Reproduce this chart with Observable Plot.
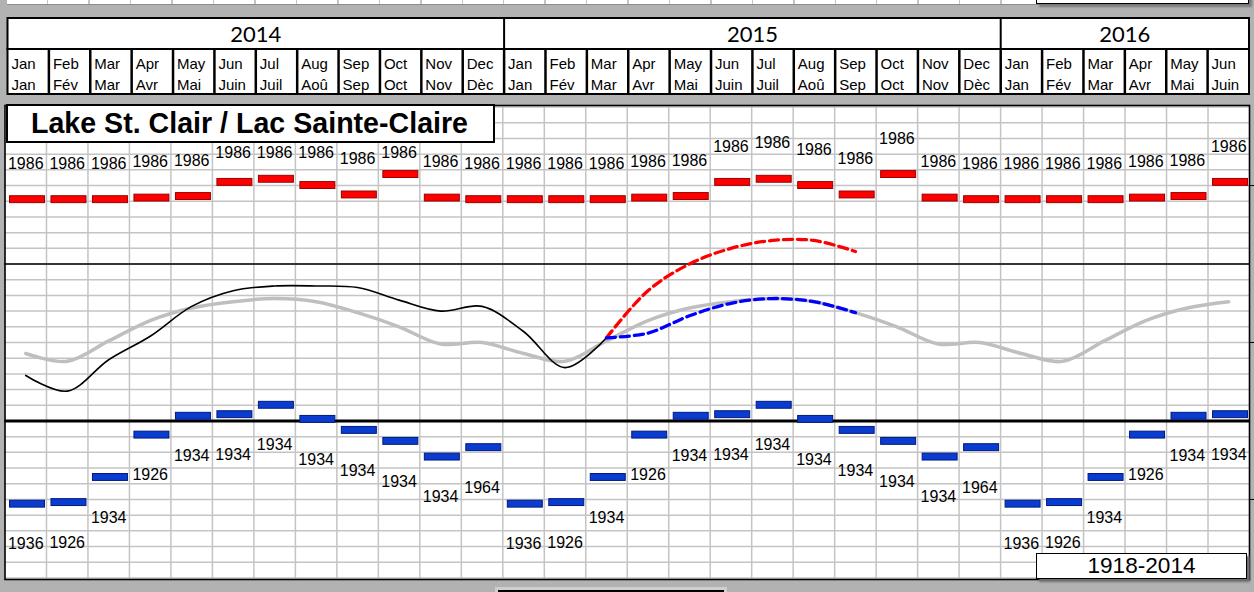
<!DOCTYPE html>
<html>
<head>
<meta charset="utf-8">
<script src="https://cdn.jsdelivr.net/npm/d3@7"></script>
<script src="https://cdn.jsdelivr.net/npm/@observablehq/plot@0.6"></script>
<style>
html, body { margin: 0; padding: 0; background: #b2b2b2; }
#wrap { position: relative; width: 1254px; height: 592px; overflow: hidden; background: #b2b2b2; font-family: "Liberation Sans", Arial, sans-serif; }
.abs { position: absolute; }
#topstrip { left: 6.7px; top: 0; width: 1242px; height: 3.5px; background-color: #fff; border-bottom: 1px solid #8c8c8c;
  background-image: repeating-linear-gradient(to right, transparent 0, transparent 40px, #c4c4c4 40px, #c4c4c4 41.45px); }
#topbox { left: 1036px; top: -12px; width: 211px; height: 14px; background: #fff; border: 1.5px solid #000; box-shadow: 3px 3px 2px #7a7a7a; }
#yearrow { left: 0; top: 16px; }
#monthrow { left: 0; top: 48px; }
#chart { left: 0; top: 103px; }
#title { left: 6px; top: 104px; width: 489px; height: 39px; box-sizing: border-box; border: 2px solid #000; background: #fff;
  padding-left: 23px; font: bold 28.6px "Liberation Sans", Arial, sans-serif; line-height: 35px; white-space: nowrap; }
#legend { left: 1036px; top: 553px; width: 211px; height: 26px; box-sizing: border-box; border: 1.5px solid #000; background: #fff;
  box-shadow: 3px 3px 2px #6e6e6e; text-align: center; font: 22.6px "Liberation Sans", Arial, sans-serif; line-height: 23px; }
#botbox { left: 495px; top: 587px; width: 232px; height: 10px; background: #cfcfcf; }
#botbox div { position: absolute; left: 3px; top: 3px; width: 226px; height: 10px; background: #fff; border-top: 2px solid #000; }
</style>
</head>
<body>
<div id="wrap">
  <div id="topstrip" class="abs"></div>
  <div id="topbox" class="abs"></div>
  <div id="yearrow" class="abs"></div>
  <div id="monthrow" class="abs"></div>
  <div id="chart" class="abs"></div>
  <div id="title" class="abs"></div>
  <div id="legend" class="abs"></div>
  <div id="botbox" class="abs"><div></div></div>
</div>
<script>
// ---------- data ----------
const chartTitle = "Lake St. Clair / Lac Sainte-Claire";
const legendPeriod = "1918-2014";
const monthEn = ["Jan","Feb","Mar","Apr","May","Jun","Jul","Aug","Sep","Oct","Nov","Dec"];
const monthFr = ["Jan","Fév","Mar","Avr","Mai","Juin","Juil","Aoû","Sep","Oct","Nov","Dèc"];
const years = [2014, 2015, 2016];
const monthsShown = [12, 12, 6];

// monthly record highs (m) and year of record
const recordHigh = [175.81, 175.81, 175.81, 175.82, 175.83, 175.92, 175.94, 175.90, 175.84, 175.97, 175.82, 175.81];
const recordHighYear = [1986, 1986, 1986, 1986, 1986, 1986, 1986, 1986, 1986, 1986, 1986, 1986];
// monthly record lows (m) and year of record
const recordLow = [173.87, 173.88, 174.04, 174.31, 174.43, 174.44, 174.50, 174.41, 174.34, 174.27, 174.17, 174.23];
const recordLowYear = [1936, 1926, 1934, 1926, 1934, 1934, 1934, 1934, 1934, 1934, 1934, 1964];
// long-term monthly average (m)
const longTermMean = [174.83, 174.78, 174.91, 175.04, 175.12, 175.16, 175.18, 175.16, 175.09, 175.00, 174.89, 174.90];
// recorded levels, Jan 2014 - Mar 2015 (m)
const recorded = [174.69, 174.59, 174.79, 174.94, 175.13, 175.23, 175.26, 175.26, 175.25, 175.17, 175.10, 175.13, 174.97, 174.74, 174.93];
// forecast range, Mar 2015 - Sep 2015 (m)
const forecastStart = 14;
const forecastHigh = [174.93, 175.23, 175.40, 175.50, 175.55, 175.55, 175.48];
const forecastLow  = [174.93, 174.96, 175.07, 175.15, 175.18, 175.16, 175.09];
const chartDatum = 174.4;
const refLevel = 175.4;

// ---------- derived tables ----------
const months = [];
years.forEach((yr, k) => {
  for (let m = 0; m < monthsShown[k]; m++) months.push({i: months.length, year: yr, m, en: monthEn[m], fr: monthFr[m]});
});
const yearRows = [];
{ let s = 0; years.forEach((yr, k) => { yearRows.push({year: yr, start: s, end: s + monthsShown[k]}); s += monthsShown[k]; }); }
const N = months.length;
const hi = months.map(d => ({i: d.i, v: recordHigh[d.m], yr: recordHighYear[d.m]}));
const lo = months.map(d => ({i: d.i, v: recordLow[d.m], yr: recordLowYear[d.m]}));
const lta = months.map(d => ({i: d.i, v: longTermMean[d.m]}));
const rec = recorded.map((v, i) => ({i, v}));
const fHi = forecastHigh.map((v, k) => ({i: forecastStart + k, v}));
const fLo = forecastLow.map((v, k) => ({i: forecastStart + k, v}));

const font = "Liberation Sans, Arial, sans-serif";
const W = 1254;

// ---------- header: year row ----------
const yearPlot = Plot.plot({
  width: W, height: 33, marginLeft: 7, marginRight: 5.5, marginTop: 1.5, marginBottom: 0.5,
  x: {domain: [0, N], axis: null},
  style: {background: "transparent", fontFamily: "Lato, sans-serif", overflow: "visible"},
  marks: [
    Plot.frame({fill: "white", stroke: "black", strokeWidth: 2}),
    Plot.ruleX(yearRows.slice(1), {x: "start", stroke: "black", strokeWidth: 2}),
    Plot.text(yearRows, {x: d => (d.start + d.end) / 2, text: d => String(d.year), fontSize: 22, frameAnchor: "middle", dy: 1.5, fill: "black"})
  ]
});
document.getElementById("yearrow").append(yearPlot);

// ---------- header: month row ----------
const monthPlot = Plot.plot({
  width: W, height: 46, marginLeft: 7, marginRight: 5.5, marginTop: 0.5, marginBottom: 0.5,
  x: {domain: [0, N], axis: null},
  style: {background: "transparent", fontFamily: font, overflow: "visible"},
  marks: [
    Plot.frame({fill: "white", stroke: "black", strokeWidth: 2}),
    Plot.ruleX(d3.range(1, N), {stroke: "black", strokeWidth: 2.5}),
    Plot.text(months, {x: "i", text: d => d.en + "\n" + d.fr, textAnchor: "start", dx: 4, dy: 1.2,
      frameAnchor: "middle", lineHeight: 1.37, fontSize: 15, fill: "black"})
  ]
});
document.getElementById("monthrow").append(monthPlot);

// ---------- main chart ----------
const yDomain = [173.39, 176.41];
const gridLevels = d3.range(Math.ceil(yDomain[0] * 10), Math.floor(yDomain[1] * 10) + 1).map(d => d / 10);
const barHalf = 0.022;
const marks = [
  Plot.frame({fill: "white"}),
  Plot.ruleY(gridLevels, {stroke: "#c4c4c4", strokeWidth: 1.5}),
  Plot.ruleX(d3.range(1, N), {stroke: "#c4c4c4", strokeWidth: 1.5}),
  Plot.ruleY([refLevel], {stroke: "black", strokeWidth: 1.5}),
  Plot.ruleY([chartDatum], {stroke: "black", strokeWidth: 3}),
  Plot.line(lta, {x: d => d.i + 0.5, y: "v", stroke: "#bfbfbf", strokeWidth: 3.5, curve: "catmull-rom"}),
  Plot.line(rec, {x: d => d.i + 0.5, y: "v", stroke: "black", strokeWidth: 1.6, curve: "catmull-rom"}),
  Plot.line(fHi, {x: d => d.i + 0.5, y: "v", stroke: "#ff0000", strokeWidth: 3.3, strokeDasharray: "9,5", curve: "catmull-rom"}),
  Plot.line(fLo, {x: d => d.i + 0.5, y: "v", stroke: "#0000ff", strokeWidth: 3.3, strokeDasharray: "9,5", curve: "catmull-rom"}),
  Plot.rect(hi, {x1: "i", x2: d => d.i + 1, y1: d => d.v - barHalf, y2: d => d.v + barHalf, insetLeft: 5, insetRight: 1.5,
    fill: "#ff0000", stroke: "#9a0000", strokeWidth: 1}),
  Plot.text(hi, {x: d => d.i + 0.5, y: d => d.i < 12 ? Math.min(d.v, 175.88) : d.v, dy: -36, text: d => String(d.yr),
    fontSize: 16, fill: "black"}),
  Plot.rect(lo, {x1: "i", x2: d => d.i + 1, y1: d => d.v - barHalf, y2: d => d.v + barHalf, insetLeft: 5, insetRight: 1.5,
    fill: "#0a3cd0", stroke: "#001a80", strokeWidth: 1}),
  Plot.text(lo, {x: d => d.i + 0.5, y: "v", dy: 40, text: d => String(d.yr), fontSize: 16, fill: "black"}),
  Plot.frame({stroke: "black", strokeWidth: 1.6})
];
if (Plot.axisY) {
  marks.push(Plot.axisY([chartDatum - 0.5, chartDatum + 0.5, chartDatum + 1.5], {anchor: "right", tickSize: 5, tickFormat: () => "", label: null, stroke: "black"}));
}
const chart = Plot.plot({
  width: W, height: 489, marginTop: 2, marginBottom: 13, marginLeft: 4.5, marginRight: 5,
  x: {domain: [0, N], axis: null},
  y: {domain: yDomain, axis: null},
  style: {background: "transparent", fontFamily: font, overflow: "visible"},
  marks
});
document.getElementById("chart").append(chart);

document.getElementById("title").textContent = chartTitle;
document.getElementById("legend").textContent = legendPeriod;
</script>
</body>
</html>
